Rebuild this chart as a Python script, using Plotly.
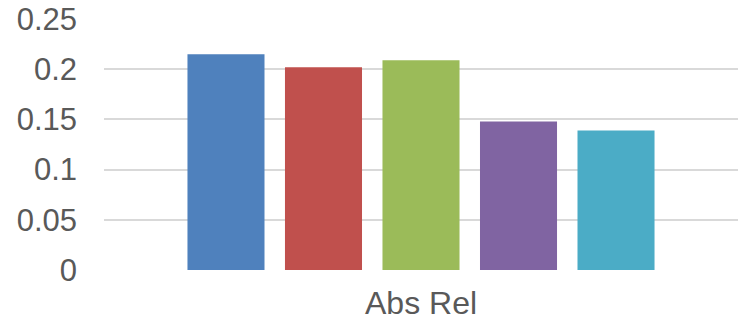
import plotly.graph_objects as go

categories = ["Abs Rel"]
series_names = ["Series 1", "Series 2", "Series 3", "Series 4", "Series 5"]
series_values = [[0.215], [0.202], [0.209], [0.148], [0.139]]
colors = ["#4F81BD", "#C0504D", "#9BBB59", "#8064A2", "#4BACC6"]
y_ticks = [0, 0.05, 0.1, 0.15, 0.2, 0.25]
y_tick_labels = ["0", "0.05", "0.1", "0.15", "0.2", "0.25"]

fig = go.Figure()
for name, vals, col in zip(series_names, series_values, colors):
    fig.add_trace(go.Bar(x=categories, y=vals, name=name, marker=dict(color=col, line=dict(width=0))))

fig.update_layout(
    width=740, height=325,
    margin=dict(l=104, r=2, t=19, b=55),
    paper_bgcolor="white", plot_bgcolor="white",
    barmode="group", bargap=0.231, bargroupgap=0.21,
    showlegend=False,
    font=dict(family="Liberation Sans, Arial, sans-serif", size=31, color="#595959"),
)
fig.update_yaxes(
    range=[0, 0.25], tickvals=y_ticks, ticktext=y_tick_labels,
    showgrid=True, gridcolor="#D9D9D9", gridwidth=1.5,
    zeroline=False, showline=False, ticks="", ticklabelstandoff=26,
    tickfont=dict(size=31, color="#595959"),
)
fig.update_xaxes(
    showgrid=False, zeroline=False, showline=False, ticks="",
    ticklabelstandoff=11,
    tickfont=dict(size=32, color="#595959"),
)
fig.write_html("out.html")
